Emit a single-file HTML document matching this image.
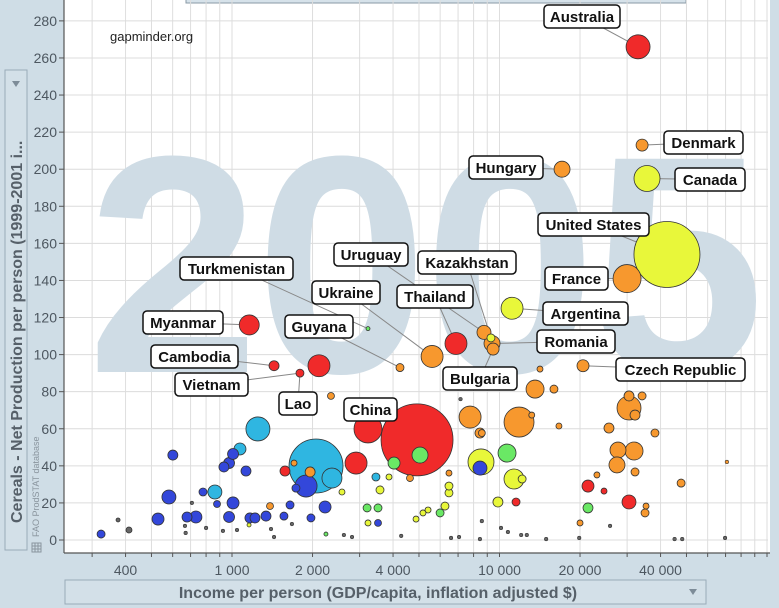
<!DOCTYPE html>
<html><head><meta charset="utf-8"><style>
html,body{margin:0;padding:0;background:#cfdde6;}
svg{display:block;font-family:"Liberation Sans",Arial,sans-serif;}
</style></head><body>
<svg id="chart" width="779" height="608" viewBox="0 0 779 608">
  <rect x="0" y="0" width="779" height="608" fill="#cfdde6"/>
  <rect x="64" y="0" width="706" height="553" fill="#ffffff"/>
  <rect x="186" y="-4" width="500" height="7" fill="#d6e2ea" stroke="#8a9aa6"/>
  <g id="grid"></g>
  <text x="87" y="372" font-size="310" font-weight="bold" fill="#cfdce5" letter-spacing="-4">2005</text>
  <text x="110" y="41" font-size="13" fill="#222">gapminder.org</text>
  <g id="leaders"></g>
  <g id="bubbles"></g>
  <g id="labels"></g>
  <line x1="64" y1="0" x2="64" y2="553" stroke="#555" stroke-width="1.2"/>
  <line x1="64" y1="553" x2="770" y2="553" stroke="#555" stroke-width="1.2"/>
  <g id="yticks"></g>
  <g id="xticks"></g>
  <rect x="5" y="70" width="22" height="480" fill="#d3e0e8" stroke="#9aabb8"/>
  <text transform="translate(22,523) rotate(-90)" font-size="16" font-weight="bold" fill="#566069">Cereals - Net Production per person (1999-2001 i...</text>
  <path d="M12,81 L20,81 L16,87 Z" fill="#7d8c98"/>
  <text transform="translate(39,537) rotate(-90)" font-size="9" fill="#8a959e">FAO ProdSTAT database</text>
  <g stroke="#8a959e" fill="none" stroke-width="1">
    <rect x="32" y="543" width="9" height="9"/><line x1="32" y1="546" x2="41" y2="546"/><line x1="32" y1="549" x2="41" y2="549"/><line x1="35" y1="543" x2="35" y2="552"/><line x1="38" y1="543" x2="38" y2="552"/>
  </g>
  <rect x="65" y="580" width="641" height="24" fill="#d3e0e8" stroke="#9aabb8"/>
  <text x="378" y="598" font-size="16" font-weight="bold" fill="#566069" text-anchor="middle">Income per person (GDP/capita, inflation adjusted $)</text>
  <path d="M689,589 L697,589 L693,595 Z" fill="#7d8c98"/>
</svg>
<script>
// Labelled countries (21)
const countryNames = ["Australia","Denmark","Canada","Hungary","United States","France","Argentina","Myanmar","Cambodia","Vietnam",
 "Lao","Guyana","Turkmenistan","Ukraine","Thailand","Uruguay","Kazakhstan","Romania","Bulgaria","Czech Republic","China"];
const namedIncome = [32960,34120,35600,17130,42270,29980,11140,1160,1436,2114,
 1795,4246,3224,5597,6875,8750,9290,9376,9462,20520,4917];
const namedCereal = [266,213,195,200,154,141,125,116,94,94,
 90,93,114,99,106,112,109,106,103,94,54];
const namedSize = [144,36,169,64,1089,196,121,100,25,121,
 16,16,4,121,121,49,16,64,36,36,1296];
const namedRegion = ["R","O","Y","O","Y","O","Y","R","R","R",
 "R","O","G","O","R","O","Y","O","O","O","R"];

// Other countries
const otherIncome = [324,375,412,529,581,601,
 667,671,679,708,733,779,800,863,879,925,
 933,975,1009,975,1009,1071,1128,1044,1158,1167,
 1219,1250,1340,1387,1399,1436,1564,1578,1648,1675,
 1706,1734,1892,1959,1973,2061,2228,2245,2364,2577,
 2909,3199,3224,3224,3452,3514,3514,3575,3863,4034,
 4627,5045,4875,5176,5406,5996,6254,6473,6473,6473,
 7762,8453,8527,8453,9866,10670,11330,12150,11530,11830,
 13200,13580,15980,16680,14170,20000,21420,21420,23130,24590,
 25660,27730,27490,30490,30490,34120,32110,31840,32110,30490,
 35300,35000,38120,47740,70800,2344,8590,
 2620,2810,4290,6590,7060,8450,10130,10750,12050,12650,
 14940,19860,45140,48200,69700,25900,7150,8590];
const otherCereal = [3.2,10.8,5.4,11.3,23.2,45.8,
 7.6,3.8,12.4,20,12.4,25.9,6.5,25.9,19.4,4.9,
 39.4,41.5,20,12.4,46.4,49.1,37.2,5.4,8.1,11.9,
 11.9,59.9,12.9,18.3,5.9,1.6,12.9,37.2,18.9,8.6,
 41.5,28,29.1,36.7,11.9,39.9,17.8,3.2,33.4,25.9,
 41.5,17.3,9.2,59.9,34,17.3,9.2,27,34,41.5,
 33.4,45.8,11.3,14.6,16.2,14.6,18.3,25.4,29.1,36.1,
 66.3,57.7,42.1,38.8,20.5,46.9,32.9,32.9,20.5,63.6,
 67.4,81.4,81.4,61.5,92.2,9.2,29.1,17.3,35.1,26.4,
 60.4,48.5,40.5,71.2,77.7,77.7,67.4,48,36.7,20.5,
 18.3,14.6,57.7,30.7,42.1,77.7,57.7,
 2.7,1.6,2.2,1.1,1.6,0.5,6.5,4.3,2.7,2.7,
 0.5,1.1,0.5,0.5,1.1,7.6,76,10.2];
const otherSize = [16,4,9,36,49,25,
 3,3,25,3,36,16,3,49,12,3,
 25,30,36,30,30,36,25,3,4,25,
 25,144,25,12,3,3,16,25,16,3,
 9,16,121,25,16,729,36,4,100,9,
 121,16,9,196,16,16,12,16,9,36,
 12,64,9,9,9,16,16,16,16,9,
 121,25,169,49,25,81,100,16,16,225,
 9,81,16,9,9,9,36,25,9,9,
 25,64,64,144,25,16,25,81,16,49,
 9,16,16,16,3,12,12,
 3,3,3,3,3,3,3,3,3,3,
 3,3,3,3,3,3,3,3];
const otherRegion = ["B","K","K","B","B","B",
 "K","K","B","K","B","B","K","C","B","K",
 "B","B","B","B","B","C","B","K","Y","B",
 "B","C","B","O","K","K","B","R","B","K",
 "O","B","B","O","B","C","B","G","C","Y",
 "R","G","Y","R","C","G","B","Y","Y","G",
 "O","G","Y","Y","Y","G","Y","Y","Y","O",
 "O","O","Y","B","Y","G","Y","Y","R","O",
 "O","O","O","O","O","O","R","G","O","R",
 "O","O","O","O","O","O","O","O","O","R",
 "O","O","O","O","O","O","O",
 "K","K","K","K","K","K","K","K","K","K",
 "K","K","K","K","K","K","K","K"];

const xTickValues = [400,1000,2000,4000,10000,20000,40000];
const xTickLabels = ["400","1 000","2 000","4 000","10 000","20 000","40 000"];
const yTickValues = [0,20,40,60,80,100,120,140,160,180,200,220,240,260,280];

const colors = {R:"#f02a2a",O:"#f7982e",Y:"#e8f73a",G:"#6ae865",B:"#3347da",C:"#2fb6e1",K:"#666666"};
const NS = "http://www.w3.org/2000/svg";
function xScale(v){ return 232 + 267.5*Math.log10(v/1000); }
function yScale(v){ return 540 - v*1.854; }
function mk(tag, attrs, parent){ const e=document.createElementNS(NS,tag); for(const k in attrs) e.setAttribute(k,attrs[k]); parent.appendChild(e); return e; }

const grid = document.getElementById('grid');
for (let d=100; d<=100000; d*=10){
  for (let m=1; m<10; m++){
    const x = xScale(d*m);
    if (x<65 || x>768) continue;
    const l = mk('line',{x1:x,y1:0,x2:x,y2:553,stroke:'#dedede','stroke-width':1},grid);
    
    
  }
}
yTickValues.forEach(v=>{
  const y=yScale(v);
  const l = mk('line',{x1:64,y1:y,x2:768,y2:y,stroke:'#dcdcdc','stroke-width':1},grid);
  
  
});

const yt = document.getElementById('yticks');
yTickValues.forEach(v=>{
  const y=yScale(v);
  const t = mk('line',{x1:59,y1:y,x2:64,y2:y,stroke:'#555'},yt);
  
  
  const tx = mk('text',{x:57,y:y+5,'font-size':14,fill:'#4d5760','text-anchor':'end'},yt);
  
  
  tx.textContent = v;
});
const xt = document.getElementById('xticks');
for (let d=100; d<=100000; d*=10){
  for (let m=1; m<10; m++){
    const x=xScale(d*m);
    if (x<65||x>768) continue;
    const t = mk('line',{x1:x,y1:553,x2:x,y2:557,stroke:'#555'},xt);
    
    
  }
}
xTickValues.forEach((v,i)=>{
  const tx = mk('text',{x:xScale(v),y:575,'font-size':14,fill:'#4d5760','text-anchor':'middle'},xt);
  
  
  tx.textContent = xTickLabels[i];
});

const all = [];
namedIncome.forEach((v,i)=>all.push({inc:v,val:namedCereal[i],s:namedSize[i],c:namedRegion[i],name:countryNames[i]}));
otherIncome.forEach((v,i)=>all.push({inc:v,val:otherCereal[i],s:otherSize[i],c:otherRegion[i],name:null}));
const bg = document.getElementById('bubbles');
all.slice().sort((a,b)=>b.s-a.s).forEach(d=>{
  const r = Math.sqrt(d.s);
  const c = mk('circle',{cx:xScale(d.inc),cy:yScale(d.val),r:r,fill:colors[d.c],stroke:'#333','stroke-width':r<2?0.6:0.8},bg);
  
  
});

// label layout: [country index, box left, box top, box width]
const labelLayout = [[0,544,5,76],[1,664,131,79],[2,675,168,70],[3,469,156,74],[4,538,213,111],[5,545,267,63],[6,543,302,85],
 [7,143,311,80],[8,151,345,87],[10,175,373,73],[10,279,392,38],[11,285,315,68],[12,180,257,113],[13,312,281,68],[14,397,285,76],
 [15,334,243,74],[16,418,251,98],[17,537,330,78],[18,443,367,74],[19,616,358,129],[20,344,398,53]];
const labelText = ["Australia","Denmark","Canada","Hungary","United States","France","Argentina","Myanmar","Cambodia","Vietnam","Lao","Guyana","Turkmenistan","Ukraine","Thailand","Uruguay","Kazakhstan","Romania","Bulgaria","Czech Republic","China"];
const lg = document.getElementById('leaders'), lb = document.getElementById('labels');
labelLayout.forEach((L,k)=>{
  const i=L[0], bx=L[1], by=L[2], bw=L[3];
  const cx=bx+bw/2, cy=by+11.5;
  const px=xScale(namedIncome[i]), py=yScale(namedCereal[i]);
  if (k!==20){
    const ln = mk('line',{x1:cx,y1:cy,x2:px,y2:py,stroke:'#888','stroke-width':1},lg);
    
    
  }
  const g = mk('g',{},lb);
  
  
  mk('rect',{x:bx,y:by,width:bw,height:23,rx:4,fill:'#fff',stroke:'#111','stroke-width':1.5},g);
  const t = mk('text',{x:cx,y:by+17,'font-size':15,'font-weight':'bold',fill:'#111','text-anchor':'middle'},g);
  t.textContent = labelText[k];
});
</script>
</body></html>
